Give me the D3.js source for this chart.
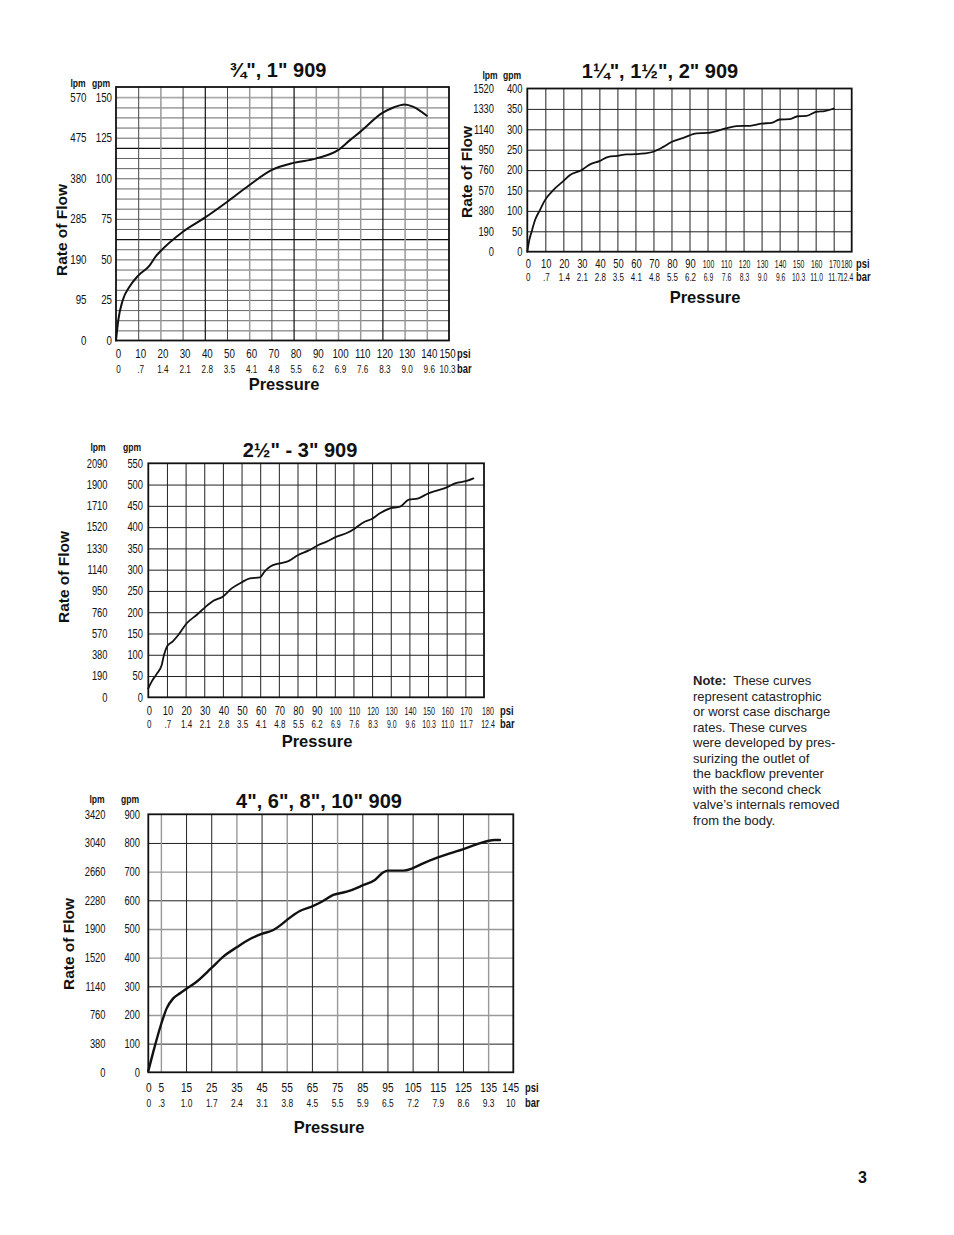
<!DOCTYPE html>
<html><head><meta charset="utf-8">
<script src="https://cdn.jsdelivr.net/npm/d3@7"></script>
<style>
body{margin:0;background:#fff;}
svg{display:block}
</style></head><body>
<svg id="page" width="954" height="1235"></svg>
<script>
// ---------- Chart 1: 3/4", 1" 909 ----------
const c1Title = "¾\", 1\" 909";
const c1Psi = [0, 1, 3, 6, 10, 15, 18, 20, 30, 40, 50, 60, 70, 80, 90, 100, 105.4, 110, 120, 125, 130, 134, 140];
const c1Gpm = [0, 12.3, 24.7, 33, 40, 46, 52, 55, 66.9, 75.7, 85.4, 95.7, 105, 109.5, 112.1, 117.3, 123.5, 128.6, 140.3, 143.6, 145.5, 144, 138.5];
const c1PsiTicks = [0, 10, 20, 30, 40, 50, 60, 70, 80, 90, 100, 110, 120, 130, 140, 150];
const c1BarTicks = ["0", ".7", "1.4", "2.1", "2.8", "3.5", "4.1", "4.8", "5.5", "6.2", "6.9", "7.6", "8.3", "9.0", "9.6", "10.3"];
const c1GpmTicks = [0, 25, 50, 75, 100, 125, 150];
const c1LpmTicks = ["0", "95", "190", "285", "380", "475", "570"];

// ---------- Chart 2: 1 1/4", 1 1/2", 2" 909 ----------
const c2Title = "1¼\", 1½\", 2\" 909";
const c2Psi = [0, 1.1, 2.4, 4.3, 7, 9.8, 14.4, 20, 23.7, 30.1, 34.8, 40, 45, 50, 55, 60, 65.3, 70, 75.5, 80, 86.6, 94, 100, 110, 116, 123.6, 130, 135.6, 140, 145.8, 150, 155, 160.5, 165, 170];
const c2Gpm = [0, 28.6, 49, 77.6, 102, 126.5, 151, 173, 187.8, 200, 214, 222, 232.7, 235, 238.4, 239, 240.8, 245, 257, 269, 279, 290, 291, 302, 308, 308.6, 314, 316, 324, 325, 332, 333, 343, 344.5, 351];
const c2PsiTicks = [0, 10, 20, 30, 40, 50, 60, 70, 80, 90, 100, 110, 120, 130, 140, 150, 160, 170, 180];
const c2BarTicks = ["0", ".7", "1.4", "2.1", "2.8", "3.5", "4.1", "4.8", "5.5", "6.2", "6.9", "7.6", "8.3", "9.0", "9.6", "10.3", "11.0", "11.7", "12.4"];
const c2GpmTicks = [0, 50, 100, 150, 200, 250, 300, 350, 400];
const c2LpmTicks = ["0", "190", "380", "570", "760", "950", "1140", "1330", "1520"];

// ---------- Chart 3: 2 1/2" - 3" 909 ----------
const c3Title = "2½\" - 3\" 909";
const c3Psi = [0, 1.8, 4.5, 7.2, 8.4, 10.2, 13, 16.1, 20.6, 25.9, 30.4, 34.9, 39.9, 44.7, 50, 54.5, 59.9, 62.2, 65.2, 70.6, 75.1, 80.4, 85.8, 91.2, 95.6, 101, 107.3, 110.8, 115.3, 119.8, 124.2, 129.6, 135, 139.4, 144.8, 150.2, 155.5, 160, 164.5, 170.7, 174.3];
const c3Gpm = [21, 37, 55, 76, 99.5, 120.6, 131, 146.5, 174, 193.5, 211.5, 227, 236.6, 256, 270, 279.7, 282, 295, 307, 315, 320, 334.5, 344.7, 358, 366, 377.6, 387.8, 397, 411, 419, 432.5, 444, 448, 463.8, 467.7, 479.5, 487, 493.6, 503, 508.5, 514.7];
const c3PsiTicks = [0, 10, 20, 30, 40, 50, 60, 70, 80, 90, 100, 110, 120, 130, 140, 150, 160, 170, 180];
const c3BarTicks = ["0", ".7", "1.4", "2.1", "2.8", "3.5", "4.1", "4.8", "5.5", "6.2", "6.9", "7.6", "8.3", "9.0", "9.6", "10.3", "11.0", "11.7", "12.4"];
const c3GpmTicks = [0, 50, 100, 150, 200, 250, 300, 350, 400, 450, 500, 550];
const c3LpmTicks = ["0", "190", "380", "570", "760", "950", "1140", "1330", "1520", "1710", "1900", "2090"];

// ---------- Chart 4: 4", 6", 8", 10" 909 ----------
const c4Title = "4\", 6\", 8\", 10\" 909";
const c4Psi = [0, 2, 5, 7.3, 9.9, 12.6, 15, 19.2, 25, 29.8, 35.1, 40.4, 45, 49.7, 52.3, 55, 60.2, 64.9, 68.9, 73.5, 78.8, 84.9, 90, 93.4, 95, 101.3, 104.9, 109.2, 114.8, 119.8, 124.9, 130.4, 134.8, 137.7, 139.7];
const c4Gpm = [4.6, 72, 165, 223, 258, 275.6, 290.7, 316, 363, 403.5, 436, 465, 482.6, 496.5, 511.6, 531, 562.8, 578, 595, 618.6, 630, 651, 671, 697.7, 703.5, 703.5, 711.6, 729, 748.8, 764, 778, 795, 807, 810.5, 810.5];
const c4PsiTicks = [0, 5, 15, 25, 35, 45, 55, 65, 75, 85, 95, 105, 115, 125, 135, 145];
const c4BarTicks = ["0", ".3", "1.0", "1.7", "2.4", "3.1", "3.8", "4.5", "5.5", "5.9", "6.5", "7.2", "7.9", "8.6", "9.3", "10"];
const c4GpmTicks = [0, 100, 200, 300, 400, 500, 600, 700, 800, 900];
const c4LpmTicks = ["0", "380", "760", "1140", "1520", "1900", "2280", "2660", "3040", "3420"];

// ---------- Note ----------
const noteLines = ["represent catastrophic", "or worst case discharge", "rates. These curves",
  "were developed by pres-", "surizing the outlet of", "the backflow preventer",
  "with the second check", "valve\u2019s internals removed", "from the body."];

const SANS = "'Liberation Sans',Arial,Helvetica,sans-serif";
const SX = 0.78; // horizontal condensing for tick labels

const svg = d3.select("#page");

function condText(g, x, y, txt, size, weight, anchor) {
  return g.append("text").attr("transform", `translate(${x},${y}) scale(${SX},1)`)
    .attr("text-anchor", anchor || "start").attr("font-family", SANS)
    .attr("font-weight", weight || "normal").attr("font-size", size).attr("fill", "#111").text(txt);
}

function drawChart(cfg) {
  const g = svg.append("g");
  const x = d3.scaleLinear().domain(cfg.xDomain).range([cfg.left, cfg.right]);
  const y = d3.scaleLinear().domain(cfg.yDomain).range([cfg.bottom, cfg.top]);
  const W = cfg.right - cfg.left, H = cfg.bottom - cfg.top;

  // horizontal grid
  const hg = g.append("g").attr("transform", `translate(${cfg.left},0)`)
    .call(d3.axisLeft(y).tickValues(cfg.hGrid).tickSize(-W).tickFormat(""));
  hg.select(".domain").remove();
  hg.selectAll("line").each(function(d) {
    const s = cfg.hStyle(d);
    d3.select(this).attr("stroke", s[0]).attr("stroke-width", s[1]);
  });
  // vertical grid
  const vg = g.append("g").attr("transform", `translate(0,${cfg.bottom})`)
    .call(d3.axisBottom(x).tickValues(cfg.vGrid).tickSize(-H).tickFormat(""));
  vg.select(".domain").remove();
  vg.selectAll("line").each(function(d) {
    const s = cfg.vStyle(d);
    d3.select(this).attr("stroke", s[0]).attr("stroke-width", s[1]);
  });
  // frame
  g.append("rect").attr("x", cfg.left).attr("y", cfg.top).attr("width", W).attr("height", H)
    .attr("fill", "none").attr("stroke", "#111").attr("stroke-width", 1.8);

  // curve
  const pts = cfg.psi.map((p, i) => [p, cfg.gpm[i]]);
  g.append("path").datum(pts)
    .attr("d", d3.line().x(d => x(d[0])).y(d => y(d[1])).curve(d3.curveMonotoneX))
    .attr("fill", "none").attr("stroke", "#111").attr("stroke-width", cfg.lineW)
    .attr("stroke-linejoin", "round").attr("stroke-linecap", "round");

  // left labels
  const ga = g.append("g").attr("transform", `translate(${cfg.gpmX},0)`)
    .call(d3.axisLeft(y).tickValues(cfg.gpmTicks).tickSize(0).tickPadding(0));
  const la = g.append("g").attr("transform", `translate(${cfg.lpmX},0)`)
    .call(d3.axisLeft(y).tickValues(cfg.gpmTicks).tickSize(0).tickPadding(0)
      .tickFormat((d, i) => cfg.lpmTicks[i]));
  [ga, la].forEach(a => {
    a.select(".domain").remove();
    a.selectAll("text").attr("font-family", SANS).attr("font-size", cfg.yFont).attr("fill", "#111")
      .attr("transform", `scale(${SX},1)`);
  });
  // header
  condText(g, cfg.lpmHX, cfg.headY, "lpm", 11, "bold", "middle");
  condText(g, cfg.gpmHX, cfg.headY, "gpm", 11, "bold", "middle");

  // bottom labels
  const isSmall = d => cfg.smallFrom !== null && d >= cfg.smallFrom;
  const lastV = cfg.psiTicks[cfg.psiTicks.length - 1];
  const tf = d => `translate(${d === lastV ? cfg.lastShift : 0},0) scale(${isSmall(d) ? cfg.smallSX : SX},1)`;
  const pa = g.append("g").attr("transform", `translate(${cfg.xShift},${cfg.psiY})`)
    .call(d3.axisBottom(x).tickValues(cfg.psiTicks).tickSize(0).tickPadding(0));
  const ba = g.append("g").attr("transform", `translate(${cfg.xShift},${cfg.barY})`)
    .call(d3.axisBottom(x).tickValues(cfg.psiTicks).tickSize(0).tickPadding(0)
      .tickFormat((d, i) => cfg.barTicks[i]));
  pa.select(".domain").remove(); ba.select(".domain").remove();
  pa.selectAll("text").attr("y", 0).attr("dy", 0).attr("font-family", SANS).attr("fill", "#111")
    .attr("transform", tf)
    .attr("font-size", d => isSmall(d) ? cfg.psiSmall : cfg.psiFont);
  ba.selectAll("text").attr("y", 0).attr("dy", 0).attr("font-family", SANS).attr("fill", "#111")
    .attr("transform", tf)
    .attr("font-size", d => isSmall(d) ? cfg.barSmall : cfg.barFont);

  condText(g, cfg.unitX, cfg.psiY, "psi", 12, "bold");
  condText(g, cfg.unitX, cfg.barY, "bar", 12, "bold");

  // titles
  g.append("text").attr("x", cfg.titleX).attr("y", cfg.titleY).attr("text-anchor", "middle")
    .attr("font-family", SANS).attr("font-weight", "bold").attr("font-size", cfg.titleFont)
    .attr("fill", "#111").text(cfg.title);
  g.append("text").attr("x", cfg.pressX).attr("y", cfg.pressY).attr("text-anchor", "middle")
    .attr("font-family", SANS).attr("font-weight", "bold").attr("font-size", 16.5)
    .attr("fill", "#111").text("Pressure");
  g.append("text").attr("transform", `translate(${cfg.rofX},${cfg.rofY}) rotate(-90)`)
    .attr("text-anchor", "middle").attr("dy", "0.36em")
    .attr("font-family", SANS).attr("font-weight", "bold").attr("font-size", 15.5)
    .attr("fill", "#111").text("Rate of Flow");
}

const darkLine = ["#222", 1];

const c1hGrid = d3.range(1, 25).map(i => i * 6.25);
drawChart({
  title: c1Title, psi: c1Psi, gpm: c1Gpm, psiTicks: c1PsiTicks, barTicks: c1BarTicks,
  gpmTicks: c1GpmTicks, lpmTicks: c1LpmTicks,
  xDomain: [0, 150], yDomain: [0, 156.25],
  left: 116, right: 449, top: 87, bottom: 340.5,
  hGrid: c1hGrid, vGrid: d3.range(10, 150, 10),
  hStyle: d => ([62.5, 118.75].includes(d) ? ["#111", 1.2] :
                [37.5, 87.5, 93.75, 143.75, 150].includes(d) ? ["#aaa", 1.8] : ["#555", 0.9]),
  vStyle: d => ([40, 80, 120].includes(d) ? ["#111", 1.2] :
                [10, 30, 50, 70].includes(d) ? ["#444", 1] : ["#999", 1.5]),
  lineW: 2,
  gpmX: 112, lpmX: 86.5, yFont: 12.5, headY: 87, lpmHX: 78, gpmHX: 101,
  xShift: 2, lastShift: -4, psiY: 358, barY: 373, psiFont: 12.5, barFont: 10.5, smallFrom: null,
  unitX: 457, titleX: 278, titleY: 77, titleFont: 20,
  pressX: 284, pressY: 390, rofX: 61, rofY: 230
});

drawChart({
  title: c2Title, psi: c2Psi, gpm: c2Gpm, psiTicks: c2PsiTicks, barTicks: c2BarTicks,
  gpmTicks: c2GpmTicks, lpmTicks: c2LpmTicks,
  xDomain: [0, 180], yDomain: [0, 400],
  left: 527.3, right: 851.7, top: 88.5, bottom: 251.7,
  hGrid: d3.range(50, 400, 50), vGrid: d3.range(10, 180, 10),
  hStyle: d => darkLine, vStyle: d => darkLine,
  lineW: 1.8,
  gpmX: 522.5, lpmX: 494, yFont: 12, headY: 79, lpmHX: 490, gpmHX: 512,
  xShift: 0.5, lastShift: -6, psiY: 268, barY: 281, psiFont: 12, barFont: 10.3, psiSmall: 10.5, barSmall: 10.3, smallSX: 0.66, smallFrom: 100,
  unitX: 856, titleX: 660, titleY: 78, titleFont: 20,
  pressX: 705, pressY: 303, rofX: 466, rofY: 172
});

drawChart({
  title: c3Title, psi: c3Psi, gpm: c3Gpm, psiTicks: c3PsiTicks, barTicks: c3BarTicks,
  gpmTicks: c3GpmTicks, lpmTicks: c3LpmTicks,
  xDomain: [0, 180], yDomain: [0, 550],
  left: 148.3, right: 484, top: 463.3, bottom: 697.3,
  hGrid: d3.range(50, 550, 50), vGrid: d3.range(10, 180, 10),
  hStyle: d => darkLine, vStyle: d => darkLine,
  lineW: 1.8,
  gpmX: 143, lpmX: 107.5, yFont: 12, headY: 451, lpmHX: 98, gpmHX: 132,
  xShift: 0.5, lastShift: 3, psiY: 715, barY: 728, psiFont: 12, barFont: 10.3, psiSmall: 10.5, barSmall: 10.3, smallSX: 0.68, smallFrom: 100,
  unitX: 500, titleX: 300, titleY: 457, titleFont: 20,
  pressX: 317, pressY: 747, rofX: 63, rofY: 577
});

drawChart({
  title: c4Title, psi: c4Psi, gpm: c4Gpm, psiTicks: c4PsiTicks, barTicks: c4BarTicks,
  gpmTicks: c4GpmTicks, lpmTicks: c4LpmTicks,
  xDomain: [0, 145], yDomain: [0, 900],
  left: 148.3, right: 513.3, top: 814.3, bottom: 1072.3,
  hGrid: d3.range(100, 900, 100), vGrid: [5].concat(d3.range(15, 145, 10)),
  hStyle: d => ([200, 400, 500, 700].includes(d) ? ["#999", 1.4] : ["#222", 1]),
  vStyle: d => ([5, 35, 55, 75, 135].includes(d) ? ["#999", 1.4] : ["#222", 1]),
  lineW: 2.4,
  gpmX: 140, lpmX: 105.5, yFont: 12, headY: 803, lpmHX: 97, gpmHX: 130,
  xShift: 0, lastShift: -3, psiY: 1092, barY: 1107, psiFont: 13, barFont: 10.8, smallFrom: null,
  unitX: 525, titleX: 319, titleY: 808, titleFont: 20,
  pressX: 329, pressY: 1133, rofX: 68, rofY: 944
});

// Note
const note = svg.append("g").attr("font-family", SANS).attr("font-size", 13).attr("fill", "#222");
const first = note.append("text").attr("x", 693).attr("y", 685);
first.append("tspan").attr("font-weight", "bold").text("Note:");
first.append("tspan").text("\u00a0 These curves");
note.selectAll("text.nl").data(noteLines).enter().append("text").attr("class", "nl")
  .attr("x", 693).attr("y", (d, i) => 685 + (i + 1) * 15.55).text(d => d);

// page number
svg.append("text").attr("x", 858).attr("y", 1183).attr("font-family", SANS)
  .attr("font-weight", "bold").attr("font-size", 16).attr("fill", "#111").text("3");
</script>
</body></html>
